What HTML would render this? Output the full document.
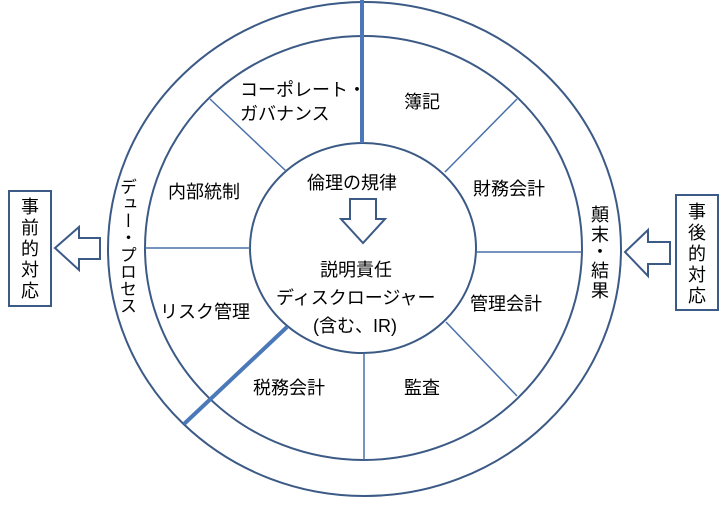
<!DOCTYPE html>
<html><head><meta charset="utf-8"><style>
body{margin:0;background:#fff;position:relative}
svg text{font-family:"Liberation Sans","Noto Sans CJK JP",sans-serif;font-size:18px;fill:#000}
.v{position:absolute;left:116px;top:178px;writing-mode:vertical-rl;font-family:"Liberation Sans","Noto Sans CJK JP",sans-serif;font-size:17px;line-height:20px;color:#000}
</style></head><body>
<svg width="728" height="500" viewBox="0 0 728 500" xmlns="http://www.w3.org/2000/svg">
<g fill="none" stroke="#3c5a86" stroke-width="2">
<ellipse cx="364.5" cy="249" rx="256.5" ry="247"/>
<ellipse cx="363.5" cy="248" rx="218.5" ry="212"/>
<ellipse cx="363" cy="248" rx="113" ry="105"/>
</g>
<g stroke="#4a70a8" stroke-width="1.5">
<line x1="145" y1="248" x2="250" y2="248"/>
<line x1="476" y1="252" x2="582" y2="252"/>
<line x1="210" y1="99" x2="286" y2="171"/>
<line x1="517" y1="99" x2="445" y2="172"/>
<line x1="446" y1="322" x2="517" y2="396"/>
<line x1="364" y1="353" x2="364" y2="460"/>
</g>
<g stroke="#4a78b8" stroke-width="4">
<line x1="362" y1="0" x2="362" y2="143"/>
<line x1="184" y1="424" x2="287" y2="327"/>
</g>
<g fill="#fff" stroke="#3c5a86" stroke-width="2">
<rect x="9" y="191" width="42" height="115"/>
<rect x="676" y="195" width="42" height="115"/>
<polygon points="55,248 79,227 79,238 100,238 100,259 79,259 79,270"/>
<polygon points="625,252 648,230 648,242 670,242 670,264 648,264 648,276"/>
<polygon points="350,199 376,199 376,219 385,219 363,243 341,219 350,219"/>
</g>
<text x="240" y="96">コーポレート・</text>
<text x="240" y="120">ガバナンス</text>
<text x="404" y="108">簿記</text>
<text x="168" y="198">内部統制</text>
<text x="307" y="189">倫理の規律</text>
<text x="473" y="195">財務会計</text>
<text x="320" y="276">説明責任</text>
<text x="276" y="304">ディスクロージャー</text>
<text x="313" y="332">(含む、IR)</text>
<text x="160" y="318">リスク管理</text>
<text x="470" y="310">管理会計</text>
<text x="253" y="394">税務会計</text>
<text x="404" y="394">監査</text>
<g text-anchor="middle">
<text x="30" y="213">事</text><text x="30" y="234">前</text><text x="30" y="255">的</text><text x="30" y="276">対</text><text x="30" y="297">応</text>
<text x="697" y="218">事</text><text x="697" y="239">後</text><text x="697" y="260">的</text><text x="697" y="281">対</text><text x="697" y="302">応</text>
<text x="600" y="221">顛</text><text x="600" y="241">末</text><text x="600" y="258">・</text><text x="600" y="277">結</text><text x="600" y="297">果</text>
</g>
</svg>
<div class="v">デュー・プロセス</div>
</body></html>
